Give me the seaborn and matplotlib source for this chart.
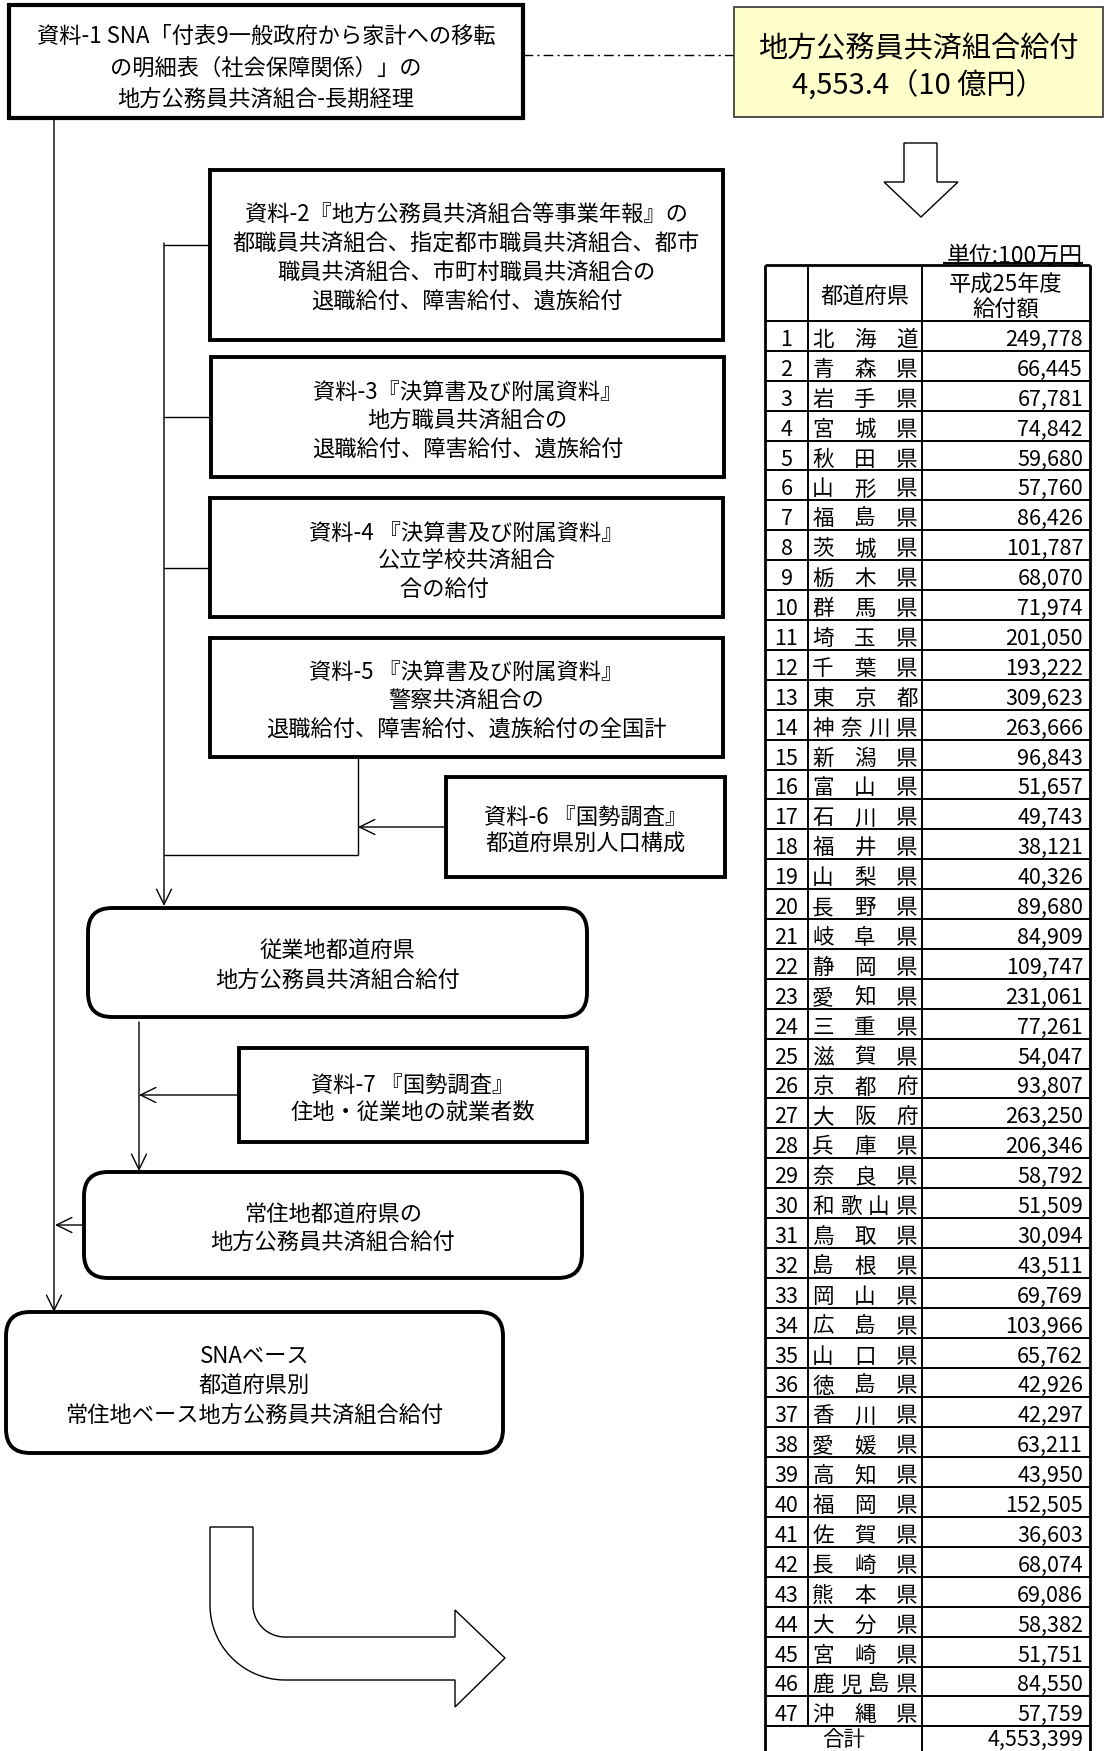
"""
plot.py
Flow chart of how prefectural local civil servant mutual aid benefits are
estimated, with the prefecture table on the right.
"""

import numpy as np
import matplotlib.pyplot as plt
import seaborn as sns
from matplotlib.patches import Rectangle, FancyBboxPatch, Polygon

sns.set_theme(style="white")
plt.rcParams["font.family"] = ["Noto Sans CJK JP", "DejaVu Sans"]

# ---- data -------------------------------------------------------------
prefectures = [
    "北海道", "青森県", "岩手県", "宮城県", "秋田県", "山形県", "福島県",
    "茨城県", "栃木県", "群馬県", "埼玉県", "千葉県", "東京都", "神奈川県",
    "新潟県", "富山県", "石川県", "福井県", "山梨県", "長野県", "岐阜県",
    "静岡県", "愛知県", "三重県", "滋賀県", "京都府", "大阪府", "兵庫県",
    "奈良県", "和歌山県", "鳥取県", "島根県", "岡山県", "広島県", "山口県",
    "徳島県", "香川県", "愛媛県", "高知県", "福岡県", "佐賀県", "長崎県",
    "熊本県", "大分県", "宮崎県", "鹿児島県", "沖縄県",
]
amounts = [
    249778, 66445, 67781, 74842, 59680, 57760, 86426,
    101787, 68070, 71974, 201050, 193222, 309623, 263666,
    96843, 51657, 49743, 38121, 40326, 89680, 84909,
    109747, 231061, 77261, 54047, 93807, 263250, 206346,
    58792, 51509, 30094, 43511, 69769, 103966, 65762,
    42926, 42297, 63211, 43950, 152505, 36603, 68074,
    69086, 58382, 51751, 84550, 57759,
]
total_amount = 4553399
total_billion = "4,553.4"

box_texts = {
    "src1": ["資料-1 SNA「付表9一般政府から家計への移転",
             "の明細表（社会保障関係）」の",
             "地方公務員共済組合-長期経理"],
    "src2": ["資料-2『地方公務員共済組合等事業年報』の",
             "都職員共済組合、指定都市職員共済組合、都市",
             "職員共済組合、市町村職員共済組合の",
             "退職給付、障害給付、遺族給付"],
    "src3": ["資料-3『決算書及び附属資料』",
             "地方職員共済組合の",
             "退職給付、障害給付、遺族給付"],
    "src4": ["資料-4 『決算書及び附属資料』",
             "公立学校共済組合",
             "合の給付　　"],
    "src5": ["資料-5 『決算書及び附属資料』",
             "警察共済組合の",
             "退職給付、障害給付、遺族給付の全国計"],
    "src6": ["資料-6 『国勢調査』", "都道府県別人口構成"],
    "work": ["従業地都道府県", "地方公務員共済組合給付"],
    "src7": ["資料-7 『国勢調査』", "住地・従業地の就業者数"],
    "home": ["常住地都道府県の", "地方公務員共済組合給付"],
    "sna": ["SNAベース", "都道府県別", "常住地ベース地方公務員共済組合給付"],
}

W, H = 1104, 1751
TY = 4  # the CJK font sits a bit high with va="center"

fig = plt.figure(figsize=(W / 100, H / 100), dpi=100)
ax = fig.add_axes([0, 0, 1, 1])
ax.set_xlim(0, W)
ax.set_ylim(H, 0)
ax.axis("off")


def label(x, y, s, **kw):
    kw.setdefault("ha", "center")
    kw.setdefault("fontsize", 15.5)
    ax.text(x, y + TY, s, va="center", color="black", zorder=3, **kw)


def box(x0, y0, x1, y1, lines, spacing=29, rounded=False, lw=2.8,
        fc="white", ec="black", fs=16, dy=0):
    if rounded:
        p = FancyBboxPatch((x0, y0), x1 - x0, y1 - y0,
                           boxstyle="round,pad=0,rounding_size=24",
                           fc=fc, ec=ec, lw=lw, zorder=2)
    else:
        p = Rectangle((x0, y0), x1 - x0, y1 - y0, fc=fc, ec=ec, lw=lw, zorder=2)
    ax.add_patch(p)
    cx, cy = (x0 + x1) / 2, (y0 + y1) / 2 + dy
    n = len(lines)
    for i, s in enumerate(lines):
        label(cx, cy + (i - (n - 1) / 2) * spacing, s, fontsize=fs)


def line(xs, ys, **kw):
    ax.plot(xs, ys, color="black", lw=kw.pop("lw", 1.0), zorder=1,
            solid_capstyle="butt", **kw)


def arrow(x0, y0, x1, y1):
    ax.annotate("", xy=(x1, y1), xytext=(x0, y0), zorder=1,
                arrowprops=dict(arrowstyle="->,head_length=0.55,head_width=0.27",
                                lw=1.0, color="black", shrinkA=0, shrinkB=0,
                                mutation_scale=20))


# ---- left flow chart --------------------------------------------------
box(9, 5, 523, 118, box_texts["src1"], spacing=32, lw=3.0, dy=3)
line([523, 734], [55, 55], lw=1.0, linestyle=(0, (7, 3, 1.5, 3)))
box(734, 7, 1103, 117, ["地方公務員共済組合給付", f"{total_billion}（10 億円）"],
    spacing=37, lw=1.2, fc="#FFFFCC", ec="#333333", fs=21, dy=2)

box(210, 170, 723, 340, box_texts["src2"], spacing=29)
box(211, 357, 724, 477, box_texts["src3"], spacing=29)
box(210, 498, 723, 617, box_texts["src4"], spacing=28)
box(210, 638, 723, 757, box_texts["src5"], spacing=29)
box(446, 777, 725, 877, box_texts["src6"], spacing=27)
box(88, 908, 587, 1017, box_texts["work"], spacing=30, rounded=True)
box(239, 1048, 587, 1142, box_texts["src7"], spacing=27)
box(84, 1172, 582, 1278, box_texts["home"], spacing=28, rounded=True)
box(6, 1312, 503, 1453, box_texts["sna"], spacing=30, rounded=True)

# main trunk from source 1 down to the SNA box
arrow(54, 118, 54, 1312)
# collector line for sources 2-6
arrow(164, 243, 164, 906)
line([164, 232], [245, 245])
line([164, 211], [417, 417])
line([164, 210], [568, 568])
line([358, 358], [757, 855])
line([164, 358], [855, 855])
arrow(446, 827, 358, 827)
# workplace -> residence
arrow(139, 1022, 139, 1171)
arrow(239, 1095, 139, 1095)
arrow(84, 1225, 55, 1225)

# hollow arrows
ax.add_patch(Polygon([(904, 143), (937, 143), (937, 182), (958, 182),
                      (921, 217), (884, 182), (904, 182)],
                     closed=True, fc="white", ec="black", lw=1.0, zorder=2))

cx, cy = 285, 1605
t_out = np.linspace(np.pi, np.pi / 2, 30)
t_in = np.linspace(np.pi / 2, np.pi, 30)
pts = [(210, 1527)]
pts += list(zip(cx + 75 * np.cos(t_out), cy + 75 * np.sin(t_out)))
pts += [(455, 1680), (455, 1707), (505, 1658), (455, 1610), (455, 1637)]
pts += list(zip(cx + 32 * np.cos(t_in), cy + 32 * np.sin(t_in)))
pts += [(253, 1527)]
ax.add_patch(Polygon(pts, closed=True, fc="white", ec="black", lw=1.0, zorder=2))

# ---- right table ------------------------------------------------------
tx0, tx1, tx2, tx3 = 765, 808, 922, 1090
top, head_bot, rh = 265, 321, 29.9

label(1083, 252, "単位:100万円", ha="right", fontsize=16.5)
line([943, 1083], [263, 263], lw=1.5)

label((tx1 + tx2) / 2, (top + head_bot) / 2, "都道府県", fontsize=16)
label((tx2 + tx3) / 2, 281, "平成25年度", fontsize=16)
label((tx2 + tx3) / 2, 306, "給付額", fontsize=16)

for i, (name, val) in enumerate(zip(prefectures, amounts)):
    ymid = head_bot + (i + 0.5) * rh
    label((tx0 + tx1) / 2, ymid, str(i + 1))
    for xc, ch in zip(np.linspace(823, 907, len(name)), name):
        label(xc, ymid, ch)
    label(1083, ymid, f"{val:,}", ha="right")

# total row runs off the bottom edge, keep its text just inside
n = len(prefectures)
ytot = head_bot + n * rh
label((tx0 + tx2) / 2, ytot + 10, "合計")
label(1083, ytot + 10, f"{total_amount:,}", ha="right")

# grid
ybot = ytot + rh
for k in range(n + 1):
    y = head_bot + k * rh
    line([tx0, tx3], [y, y], lw=1.4)
line([tx0, tx3], [top, top], lw=2.0)
line([tx0, tx3], [ybot, ybot], lw=2.0)
line([tx0, tx0], [top, ybot], lw=2.0)
line([tx3, tx3], [top, ybot], lw=2.0)
line([tx1, tx1], [top, ytot], lw=1.4)
line([tx2, tx2], [top, ybot], lw=1.4)

fig.savefig("out.png", dpi=100)
plt.close(fig)
